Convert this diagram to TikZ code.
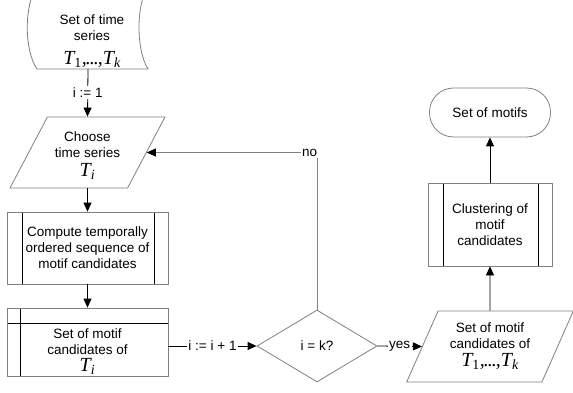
\documentclass[tikz,border=0pt]{standalone}
\usepackage{fontspec}
\setmainfont{Liberation Sans}
\newfontfamily\tmsfont{Liberation Serif}
\usetikzlibrary{shapes.geometric,arrows.meta,positioning,calc}

\definecolor{linegray}{HTML}{808080}
\newcommand{\symfont}{\tmsfont\fontsize{20}{20}\selectfont\itshape}
\newcommand{\tlist}{{\symfont T\textsubscript{\upshape 1},\kern-1pt.\kern-1pt.\kern-1pt.\kern-1pt,T\textsubscript{k}}}
\newcommand{\tone}{{\symfont T\textsubscript{i}}}

\begin{document}
\begin{tikzpicture}[x=1pt, y=-1pt,
    font=\fontsize{13.5}{16}\selectfont,
    every node/.style={align=center},
    outline/.style={draw=linegray, line width=0.8pt},
    io/.style={outline, trapezium, trapezium stretches=true, inner sep=1pt},
    proc/.style={outline, rectangle, inner sep=0pt,
        path picture={\draw[black, line width=0.8pt]
            ([xshift=15pt]path picture bounding box.north west) -- ([xshift=15pt]path picture bounding box.south west)
            ([xshift=-14pt]path picture bounding box.north east) -- ([xshift=-14pt]path picture bounding box.south east);}},
    storebox/.style={outline, rectangle, inner sep=0pt,
        path picture={\draw[black, line width=0.8pt]
            ([yshift=-15pt]path picture bounding box.north west) -- ([yshift=-15pt]path picture bounding box.north east)
            ([xshift=13pt]path picture bounding box.north west) -- ([xshift=13pt]path picture bounding box.south west);}},
    decision/.style={outline, diamond, inner sep=0pt, minimum width=120pt, minimum height=72pt},
    term/.style={outline, rectangle, rounded corners=24pt, minimum width=121pt, minimum height=49pt},
    arr/.style={-{Triangle[length=9pt,width=8pt]}, line width=0.8pt},
    lbl/.style={fill=white, inner sep=1.5pt}]

    \useasboundingbox (0,0) rectangle (573,393);

    % Input data
    \node (series) at (92,41) {Set of time\\series\\[8pt]\tlist};
    \draw[outline] (37,69) .. controls (24,50) and (24,5) .. (37,-14) -- (148,-14)
        .. controls (136,5) and (136,50) .. (148,69) -- cycle;
    \coordinate (seriesout) at (88,69);

    % Left column
    \node[io, trapezium left angle=65, trapezium right angle=115, minimum width=155pt, minimum height=71pt] (choose) at (87.5,152.5) {};
    \node (choosetext) at ([yshift=-3.5pt]choose.center) {Choose\\time series\\[3pt]\tone};
    \node[proc, minimum width=161pt, minimum height=72pt] (compute) at (87.5,248) {Compute temporally\\ordered sequence of\\motif candidates};
    \node[storebox, minimum width=161pt, minimum height=68pt] (cand) at (87.5,342) {};
    \node (candtext) at ([yshift=-10pt]cand.center) {Set of motif\\candidates of\\[1pt]\tone};

    % Decision
    \node[decision] (dec) at (317,346) {i = k?};

    % Right column
    \node[io, trapezium left angle=63, trapezium right angle=117, minimum width=167pt, minimum height=71pt] (allcand) at (490,346.5) {Set of motif\\candidates of\\[2pt]\tlist};
    \node[proc, minimum width=124pt, minimum height=83pt] (cluster) at (490,224.5) {Clustering of\\motif\\candidates};
    \node[term] (motifs) at (490,112.5) {Set of motifs};

    % Connectors
    \draw[arr] (seriesout) -- node[lbl]{i := 1} (choose.north);
    \draw[arr] (choose.south) -- (compute.north);
    \draw[arr] (compute.south) -- (cand.north);
    \draw[arr] (cand.east |- dec.west) -- node[lbl]{i := i + 1} (dec.west);
    \draw[arr] (dec.east) -- node[lbl]{yes} (allcand.west);
    \draw[arr] (allcand.north) -- (cluster.south);
    \draw[arr] (cluster.north) -- (motifs.south);
    \draw[outline, -{Triangle[black, length=9pt, width=8pt]}] (dec.north) |- node[lbl, pos=0.5, anchor=east, xshift=2pt]{no} (choose.east);
\end{tikzpicture}
\end{document}
